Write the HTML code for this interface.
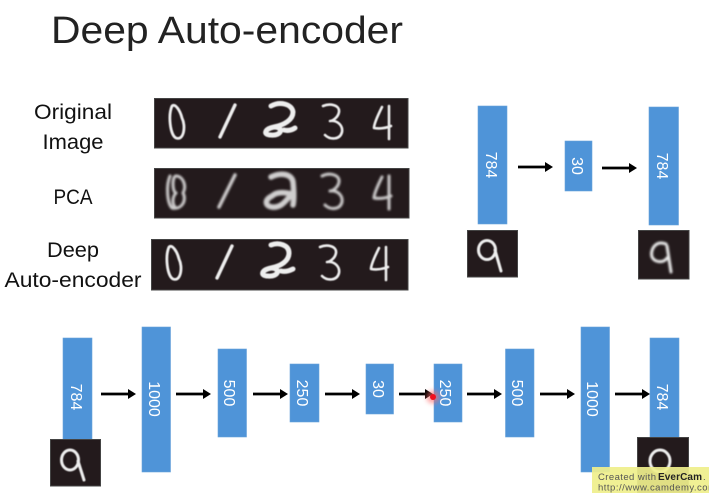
<!DOCTYPE html>
<html>
<head>
<meta charset="utf-8">
<style>
html,body{margin:0;padding:0;background:#fff;width:709px;height:493px;overflow:hidden}
svg{display:block}
text{font-family:"Liberation Sans",sans-serif}
.b{fill:#4f94d8;stroke:#6aa3da;stroke-width:.6}
.l{fill:#fff;font-size:16px;text-anchor:middle}
.t{fill:#111;font-size:21px;text-anchor:middle}
.a{stroke:#000;stroke-width:2.800;fill:none}
.h{fill:#000}
.img{fill:#231a1c;stroke:#444;stroke-width:1}
.d{fill:none;stroke:#eee;stroke-linecap:round;stroke-linejoin:round}
</style>
</head>
<body>
<svg width="709" height="493" viewBox="0 0 709 493" xmlns="http://www.w3.org/2000/svg">
<defs>
<filter id="s" x="-20%" y="-20%" width="140%" height="140%"><feGaussianBlur stdDeviation=".5"/></filter>
<filter id="m" x="-30%" y="-30%" width="160%" height="160%"><feGaussianBlur stdDeviation="1.100"/></filter>
<filter id="r" x="-100%" y="-100%" width="300%" height="300%"><feGaussianBlur stdDeviation="2.500"/></filter>
</defs>

<text x="51" y="43" font-size="38" fill="#222" textLength="352" lengthAdjust="spacingAndGlyphs">Deep Auto-encoder</text>

<text class="t" x="73" y="119" textLength="78" lengthAdjust="spacingAndGlyphs">Original</text>
<text class="t" x="73" y="149" textLength="61" lengthAdjust="spacingAndGlyphs">Image</text>
<text class="t" x="73" y="204" textLength="39" lengthAdjust="spacingAndGlyphs">PCA</text>
<text class="t" x="73" y="257" textLength="52" lengthAdjust="spacingAndGlyphs">Deep</text>
<text class="t" x="73" y="287" textLength="137" lengthAdjust="spacingAndGlyphs">Auto-encoder</text>

<!-- image strips -->
<rect class="img" x="154.500" y="98.500" width="253.500" height="49.500"/>
<rect class="img" x="154.500" y="168.500" width="254.500" height="49.500"/>
<rect class="img" x="151.500" y="239.500" width="256.500" height="50.500"/>

<!-- strip 1 -->
<g filter="url(#s)">
<path class="d" stroke-width="2.800" d="M172 106C168 115 170 135 176 138C184 141 186 126 182 118C180 110 175 103 172 106Z"/>
<path class="d" stroke-width="3.400" d="M235 105L220 137"/>
<path class="d" stroke-width="5" d="M271 106C280 101 292 104 293 112C293 120 284 125 274 127C264 129 263 135 271 135C282 136 284 127 274 127M284 130C288 131 292 130 295 128"/>
<path class="d" stroke-width="2.600" d="M323 106C330 103 340 105 339 112C338 118 332 121 330 121C338 120 343 126 342 132C340 140 330 140 325 135"/>
<path class="d" stroke-width="2.600" d="M382 107C378 115 374 124 374 128C380 129 386 128 391 126M389 106L389 139"/>
</g>

<!-- strip 2 -->
<g filter="url(#m)" opacity=".85">
<path class="d" stroke="#bbb" stroke-width="3" d="M170 176C166 185 167 203 172 208C182 210 187 200 183 193C187 186 183 176 176 176C172 176 172 192 176 193C172 197 172 205 176 208"/>
<path class="d" stroke-width="3.500" d="M235 175L219 207"/>
<path class="d" stroke-width="5.500" d="M271 177C281 172 292 174 293 182C294 192 294 200 293 205M272 196C264 200 265 206 272 207C282 208 286 200 292 194C284 192 276 192 272 196"/>
<path class="d" stroke-width="3" d="M322 176C330 172 340 175 339 182C338 188 332 191 330 191C338 190 343 196 342 202C340 210 330 210 325 205"/>
<path class="d" stroke-width="3" d="M382 177C378 185 374 194 374 198C380 199 386 198 391 196M389 176L389 209"/>
</g>

<!-- strip 3 -->
<g filter="url(#s)" transform="translate(-3 141)">
<path class="d" stroke-width="2.800" d="M172 106C168 115 170 135 176 138C184 141 186 126 182 118C180 110 175 103 172 106Z"/>
<path class="d" stroke-width="3.400" d="M235 105L220 137"/>
<path class="d" stroke-width="5" d="M274 104C282 101 292 104 292 112C292 120 284 125 274 127C264 129 263 135 271 135C282 136 284 127 274 127M284 130C288 131 292 130 296 128"/>
<path class="d" stroke-width="2.600" d="M323 106C330 103 340 105 339 112C338 118 332 121 330 121C338 120 343 126 342 132C340 140 330 140 325 135"/>
<path class="d" stroke-width="2.600" d="M382 107C378 115 374 124 374 128C380 129 386 128 391 126M389 106L389 139"/>
</g>

<!-- top right network -->
<rect class="b" x="478" y="106" width="29" height="118"/>
<rect class="b" x="565" y="141" width="27" height="50"/>
<rect class="b" x="649" y="107" width="29.500" height="118"/>
<text class="l" transform="translate(486 165) rotate(90)">784</text>
<text class="l" transform="translate(572 166) rotate(90)">30</text>
<text class="l" transform="translate(657 166) rotate(90)">784</text>
<path class="a" d="M518 167H547"/><path class="h" d="M545 162L553 167L545 172Z"/>
<path class="a" d="M602 168H631"/><path class="h" d="M629 163L637 168L629 173Z"/>

<rect class="img" x="467.500" y="230.500" width="50" height="46.500"/>
<g filter="url(#s)"><ellipse class="d" stroke-width="3" cx="487" cy="250" rx="8.500" ry="9.500"/><path class="d" stroke-width="3" d="M495 250L501 271"/></g>
<rect class="img" x="638.500" y="230.500" width="50.500" height="48.500"/>
<g filter="url(#m)"><path class="d" stroke-width="3" d="M666 244C655 240 650 250 652 257C655 263 664 263 667 258M667 246L671 272"/></g>

<!-- bottom network -->
<rect class="b" x="63" y="338" width="29" height="110"/>
<rect class="b" x="142" y="327" width="28.500" height="145"/>
<rect class="b" x="218" y="349" width="28.500" height="88"/>
<rect class="b" x="290" y="364" width="29" height="58"/>
<rect class="b" x="366" y="364" width="27.500" height="50"/>
<rect class="b" x="434" y="364" width="28" height="58"/>
<rect class="b" x="505.500" y="349" width="28.500" height="88"/>
<rect class="b" x="581" y="327" width="28.500" height="145"/>
<rect class="b" x="650" y="338" width="29" height="110"/>

<text class="l" transform="translate(71 397) rotate(90)">784</text>
<text class="l" transform="translate(149 399) rotate(90)">1000</text>
<text class="l" transform="translate(224 393) rotate(90)">500</text>
<text class="l" transform="translate(297 393) rotate(90)">250</text>
<text class="l" transform="translate(373 389) rotate(90)">30</text>
<text class="l" transform="translate(440 393) rotate(90)">250</text>
<text class="l" transform="translate(512 393) rotate(90)">500</text>
<text class="l" transform="translate(587 399) rotate(90)">1000</text>
<text class="l" transform="translate(657 397) rotate(90)">784</text>

<path class="a" d="M101 394H130"/><path class="h" d="M128 389L136 394L128 399Z"/>
<path class="a" d="M176 394H205"/><path class="h" d="M203 389L211 394L203 399Z"/>
<path class="a" d="M253 394H282"/><path class="h" d="M280 389L288 394L280 399Z"/>
<path class="a" d="M325 394H354"/><path class="h" d="M352 389L360 394L352 399Z"/>
<path class="a" d="M399 394H426"/><path class="h" d="M425 389L433 394L425 399Z"/>
<path class="a" d="M467 394H496"/><path class="h" d="M494 389L502 394L494 399Z"/>
<path class="a" d="M540 394H569"/><path class="h" d="M567 389L575 394L567 399Z"/>
<path class="a" d="M615 394H644"/><path class="h" d="M642 389L650 394L642 399Z"/>

<rect class="img" x="50.500" y="439.500" width="50" height="46.500"/>
<g filter="url(#s)"><ellipse class="d" stroke-width="3" cx="70" cy="460" rx="8.500" ry="10"/><path class="d" stroke-width="3" d="M78 461L84 480"/></g>
<rect class="img" x="637.500" y="437.500" width="51" height="55.500"/>
<g filter="url(#s)"><ellipse class="d" stroke-width="3" cx="660" cy="461" rx="10" ry="11"/></g>

<!-- red pointer -->
<circle cx="433" cy="397" r="6.500" fill="#ff6a6a" opacity=".6" filter="url(#r)"/>
<circle cx="433" cy="397" r="3" fill="#f01020"/>

<!-- watermark -->
<rect x="592" y="467" width="117" height="26" fill="#efef8c" opacity=".93"/>
<text x="598" y="480" font-size="9.500" fill="#555" textLength="58" lengthAdjust="spacing">Created with</text>
<text x="658" y="480" font-size="10" fill="#222" font-weight="bold" textLength="44" lengthAdjust="spacing">EverCam</text>
<text x="703" y="480" font-size="9.500" fill="#555">.</text>
<text x="598" y="490.500" font-size="9.500" fill="#555" textLength="118" lengthAdjust="spacing">http://www.camdemy.com</text>
</svg>
</body>
</html>
